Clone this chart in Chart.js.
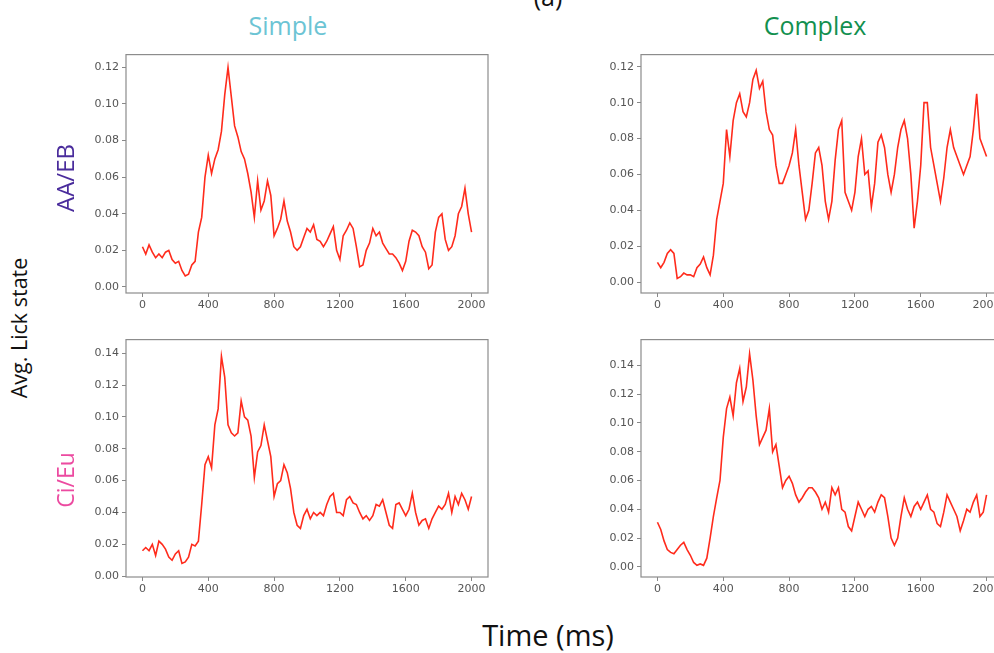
<!DOCTYPE html>
<html>
<head>
<meta charset="utf-8">
<script src="https://cdn.jsdelivr.net/npm/chart.js@4.4.1/dist/chart.umd.min.js"></script>
<style>
html, body { margin: 0; padding: 0; overflow: hidden; background: #fff; }
#fig { position: relative; width: 994px; height: 653px; overflow: hidden; font-family: "Open Sans", sans-serif; }
canvas { position: absolute; }
.lbl { position: absolute; white-space: nowrap; line-height: 1; transform: translate(-50%, -50%); }
.rot { transform: translate(-50%, -50%) rotate(-90deg); }
</style>
</head>
<body>
<div id="fig">
  <canvas id="c-tl"></canvas>
  <canvas id="c-tr"></canvas>
  <canvas id="c-bl"></canvas>
  <canvas id="c-br"></canvas>

  <div class="lbl" style="left:548px;top:-4px;font-size:25px;color:#111">(a)</div>
  <div class="lbl" style="left:288px;top:25px;font-size:25px;color:#6cc4d4">Simple</div>
  <div class="lbl" style="left:815px;top:25px;font-size:25px;color:#12904f">Complex</div>
  <div class="lbl rot" style="left:65px;top:178px;font-size:24px;color:#4a2c9c">AA/EB</div>
  <div class="lbl rot" style="left:19px;top:328px;font-size:21.5px;color:#111">Avg. Lick state</div>
  <div class="lbl rot" style="left:65px;top:480px;font-size:23px;color:#ec4aa0">Ci/Eu</div>
  <div class="lbl" style="left:548px;top:634px;font-size:29px;color:#111">Time (ms)</div>
</div>

<script>
// time axis (ms), one sample every 20 ms
var times = [
  0, 20, 40, 60, 80, 100, 120, 140, 160, 180, 200, 220, 240, 260, 280, 300, 320, 340, 360, 380,
  400, 420, 440, 460, 480, 500, 520, 540, 560, 580, 600, 620, 640, 660, 680, 700, 720, 740, 760, 780,
  800, 820, 840, 860, 880, 900, 920, 940, 960, 980, 1000, 1020, 1040, 1060, 1080, 1100, 1120, 1140, 1160, 1180,
  1200, 1220, 1240, 1260, 1280, 1300, 1320, 1340, 1360, 1380, 1400, 1420, 1440, 1460, 1480, 1500, 1520, 1540, 1560, 1580,
  1600, 1620, 1640, 1660, 1680, 1700, 1720, 1740, 1760, 1780, 1800, 1820, 1840, 1860, 1880, 1900, 1920, 1940, 1960, 1980,
  2000
];

var xTicks = [0, 400, 800, 1200, 1600, 2000];

// Simple, AA/EB
var simpleAAEB = [
  0.022, 0.018, 0.023, 0.019, 0.016, 0.018, 0.016, 0.019, 0.020, 0.015, 0.013, 0.014, 0.009, 0.006, 0.007, 0.012, 0.014, 0.030, 0.038, 0.060,
  0.072, 0.062, 0.070, 0.075, 0.085, 0.105, 0.120, 0.104, 0.088, 0.082, 0.074, 0.070, 0.062, 0.052, 0.038, 0.058, 0.042, 0.047, 0.058, 0.050,
  0.028, 0.032, 0.037, 0.047, 0.036, 0.030, 0.022, 0.020, 0.022, 0.027, 0.032, 0.030, 0.034, 0.026, 0.025, 0.022, 0.025, 0.029, 0.033, 0.020,
  0.015, 0.028, 0.031, 0.035, 0.032, 0.022, 0.011, 0.012, 0.020, 0.024, 0.032, 0.028, 0.030, 0.024, 0.021, 0.018, 0.018, 0.016, 0.013, 0.009,
  0.014, 0.025, 0.031, 0.030, 0.028, 0.022, 0.019, 0.010, 0.012, 0.030, 0.038, 0.040, 0.026, 0.020, 0.022, 0.028, 0.040, 0.044, 0.054, 0.040,
  0.030
];

// Complex, AA/EB
var complexAAEB = [
  0.011, 0.008, 0.011, 0.016, 0.018, 0.016, 0.002, 0.003, 0.005, 0.004, 0.004, 0.003, 0.008, 0.010, 0.014, 0.008, 0.004, 0.015, 0.035, 0.045,
  0.055, 0.085, 0.070, 0.090, 0.100, 0.105, 0.095, 0.092, 0.100, 0.113, 0.118, 0.108, 0.112, 0.095, 0.085, 0.082, 0.065, 0.055, 0.055, 0.060,
  0.065, 0.072, 0.085, 0.065, 0.050, 0.035, 0.040, 0.055, 0.072, 0.075, 0.065, 0.045, 0.035, 0.045, 0.068, 0.085, 0.090, 0.050, 0.045, 0.040,
  0.050, 0.070, 0.080, 0.060, 0.062, 0.042, 0.055, 0.078, 0.082, 0.075, 0.060, 0.050, 0.060, 0.075, 0.085, 0.090, 0.080, 0.060, 0.030, 0.045,
  0.065, 0.100, 0.100, 0.075, 0.065, 0.055, 0.045, 0.058, 0.075, 0.085, 0.075, 0.070, 0.065, 0.060, 0.065, 0.070, 0.085, 0.105, 0.080, 0.075,
  0.070
];

// Simple, Ci/Eu
var simpleCiEu = [
  0.016, 0.018, 0.016, 0.020, 0.013, 0.022, 0.020, 0.017, 0.012, 0.010, 0.014, 0.016, 0.008, 0.009, 0.012, 0.020, 0.019, 0.022, 0.045, 0.070,
  0.075, 0.068, 0.095, 0.105, 0.138, 0.125, 0.095, 0.090, 0.088, 0.090, 0.110, 0.100, 0.098, 0.088, 0.062, 0.078, 0.082, 0.095, 0.085, 0.075,
  0.050, 0.058, 0.060, 0.070, 0.065, 0.055, 0.040, 0.032, 0.030, 0.038, 0.042, 0.036, 0.040, 0.038, 0.040, 0.038, 0.045, 0.050, 0.052, 0.040,
  0.040, 0.038, 0.048, 0.050, 0.046, 0.045, 0.040, 0.036, 0.038, 0.035, 0.038, 0.045, 0.044, 0.048, 0.040, 0.032, 0.030, 0.045, 0.046, 0.042,
  0.038, 0.042, 0.052, 0.040, 0.032, 0.035, 0.036, 0.030, 0.036, 0.040, 0.044, 0.042, 0.045, 0.052, 0.040, 0.050, 0.045, 0.052, 0.048, 0.042,
  0.050
];

// Complex, Ci/Eu
var complexCiEu = [
  0.031, 0.026, 0.018, 0.012, 0.010, 0.009, 0.012, 0.015, 0.017, 0.012, 0.008, 0.003, 0.001, 0.002, 0.001, 0.006, 0.020, 0.035, 0.048, 0.060,
  0.090, 0.110, 0.118, 0.105, 0.128, 0.138, 0.115, 0.125, 0.148, 0.130, 0.105, 0.085, 0.090, 0.095, 0.110, 0.080, 0.085, 0.070, 0.055, 0.060,
  0.063, 0.058, 0.050, 0.045, 0.048, 0.052, 0.055, 0.055, 0.052, 0.048, 0.040, 0.045, 0.038, 0.055, 0.050, 0.055, 0.040, 0.038, 0.028, 0.025,
  0.035, 0.045, 0.040, 0.035, 0.040, 0.042, 0.038, 0.045, 0.050, 0.048, 0.035, 0.020, 0.015, 0.020, 0.035, 0.048, 0.040, 0.035, 0.042, 0.045,
  0.040, 0.045, 0.050, 0.040, 0.038, 0.030, 0.028, 0.038, 0.050, 0.045, 0.040, 0.035, 0.025, 0.032, 0.040, 0.038, 0.045, 0.050, 0.035, 0.038,
  0.050
];

// draws the grey box round each plot area
var frame = {
  id: 'frame',
  afterDraw: function (chart) {
    var a = chart.chartArea, g = chart.ctx;
    g.save();
    g.strokeStyle = '#8c8c8c';
    g.lineWidth = 1.2;
    g.strokeRect(a.left, a.top, a.right - a.left, a.bottom - a.top);
    g.restore();
  }
};

var tickFont = { family: 'DejaVu Sans', size: 11 };

function makeChart(id, values, yMin, yMax, box) {
  var el = document.getElementById(id);
  el.width = box.w;
  el.height = box.h;
  el.style.left = box.x + 'px';
  el.style.top = box.y + 'px';

  return new Chart(el, {
    type: 'line',
    data: {
      labels: times,
      datasets: [{
        data: values,
        borderColor: '#ff2b1c',
        borderWidth: 1.6,
        pointRadius: 0,
        tension: 0,
        fill: false
      }]
    },
    options: {
      responsive: false,
      animation: false,
      events: [],
      layout: { padding: { top: 8, right: 10, left: 0, bottom: 0 } },
      plugins: { legend: { display: false }, tooltip: { enabled: false } },
      scales: {
        x: {
          type: 'linear',
          min: -100,
          max: 2100,
          afterFit: function (s) { s.height = 22; },
          afterBuildTicks: function (s) { s.ticks = xTicks.map(function (v) { return { value: v }; }); },
          ticks: {
            autoSkip: false,
            maxRotation: 0,
            color: '#555',
            font: tickFont,
            padding: 2,
            callback: function (v) { return String(v); }
          },
          grid: { drawOnChartArea: false, drawTicks: true, tickLength: 4, color: '#888' },
          border: { display: false }
        },
        y: {
          min: yMin,
          max: yMax,
          afterFit: function (s) { s.width = 50; },
          ticks: {
            stepSize: 0.02,
            includeBounds: false,
            color: '#555',
            font: tickFont,
            padding: 3,
            callback: function (v) { return Number(v).toFixed(2); }
          },
          grid: { drawOnChartArea: false, drawTicks: true, tickLength: 4, color: '#888' },
          border: { display: false }
        }
      }
    },
    plugins: [frame]
  });
}

makeChart('c-tl', simpleAAEB, -0.0033, 0.127, { x: 76, y: 45, w: 422, h: 270 });
makeChart('c-tr', complexAAEB, -0.0061, 0.1268, { x: 591, y: 45, w: 422, h: 270 });
makeChart('c-bl', simpleCiEu, -0.0005, 0.1485, { x: 76, y: 330, w: 422, h: 269 });
makeChart('c-br', complexCiEu, -0.0071, 0.158, { x: 591, y: 330, w: 422, h: 269 });
</script>
</body>
</html>
